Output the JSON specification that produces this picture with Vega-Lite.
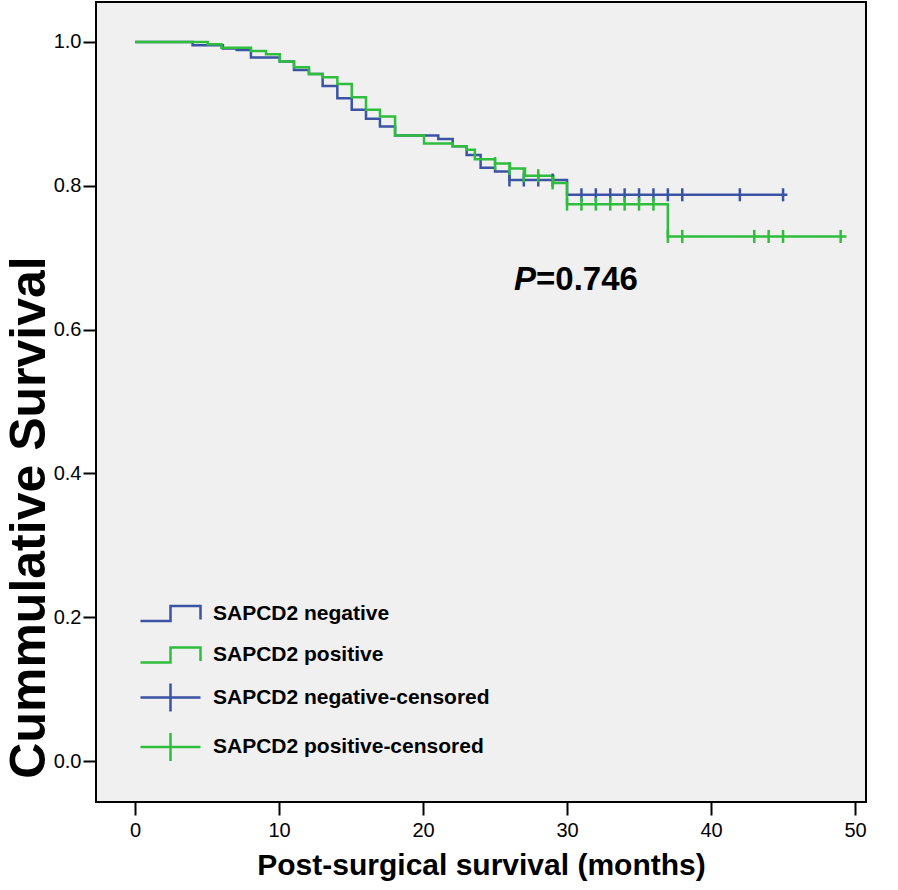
{
  "$schema": "https://vega.github.io/schema/vega-lite/v6.json",
  "autosize": {"type": "none"},
  "padding": {"left": 96, "top": 2, "right": 32, "bottom": 88},
  "width": 770,
  "height": 800,
  "background": "white",
  "config": {
    "font": "Liberation Sans",
    "view": {"stroke": "black", "strokeWidth": 2, "fill": "#f0f0f0"},
    "axis": {
      "domain": false, "grid": false,
      "tickColor": "black", "tickWidth": 2, "tickSize": 13,
      "labelColor": "black", "labelFont": "Liberation Sans", "labelFontSize": 20,
      "titleColor": "black", "titleFont": "Liberation Sans", "titleFontSize": 30, "titleFontWeight": "bold"
    }
  },
  "datasets": {
    "curves": [
      {"group": "SAPCD2 negative", "t": 0, "s": 1.0},
      {"group": "SAPCD2 negative", "t": 4.0, "s": 0.9955},
      {"group": "SAPCD2 negative", "t": 6.1, "s": 0.991},
      {"group": "SAPCD2 negative", "t": 7.06, "s": 0.989},
      {"group": "SAPCD2 negative", "t": 8.05, "s": 0.9785},
      {"group": "SAPCD2 negative", "t": 10.05, "s": 0.9727},
      {"group": "SAPCD2 negative", "t": 11.04, "s": 0.9611},
      {"group": "SAPCD2 negative", "t": 12.08, "s": 0.9556},
      {"group": "SAPCD2 negative", "t": 13.03, "s": 0.9389},
      {"group": "SAPCD2 negative", "t": 14.05, "s": 0.9218},
      {"group": "SAPCD2 negative", "t": 15.05, "s": 0.9056},
      {"group": "SAPCD2 negative", "t": 16.04, "s": 0.8931},
      {"group": "SAPCD2 negative", "t": 17.01, "s": 0.8824},
      {"group": "SAPCD2 negative", "t": 18.06, "s": 0.870},
      {"group": "SAPCD2 negative", "t": 21.06, "s": 0.865},
      {"group": "SAPCD2 negative", "t": 22.06, "s": 0.855},
      {"group": "SAPCD2 negative", "t": 23.03, "s": 0.843},
      {"group": "SAPCD2 negative", "t": 24.0, "s": 0.825},
      {"group": "SAPCD2 negative", "t": 25.0, "s": 0.820},
      {"group": "SAPCD2 negative", "t": 26.0, "s": 0.808},
      {"group": "SAPCD2 negative", "t": 30.0, "s": 0.7875},
      {"group": "SAPCD2 negative", "t": 45.3, "s": 0.7875},
      {"group": "SAPCD2 positive", "t": 0, "s": 1.0},
      {"group": "SAPCD2 positive", "t": 5.05, "s": 0.9968},
      {"group": "SAPCD2 positive", "t": 6.0, "s": 0.992},
      {"group": "SAPCD2 positive", "t": 8.05, "s": 0.9875},
      {"group": "SAPCD2 positive", "t": 9.1, "s": 0.983},
      {"group": "SAPCD2 positive", "t": 10.05, "s": 0.9727},
      {"group": "SAPCD2 positive", "t": 11.04, "s": 0.9648},
      {"group": "SAPCD2 positive", "t": 12.08, "s": 0.9556},
      {"group": "SAPCD2 positive", "t": 13.03, "s": 0.9509},
      {"group": "SAPCD2 positive", "t": 14.05, "s": 0.9417},
      {"group": "SAPCD2 positive", "t": 15.05, "s": 0.9231},
      {"group": "SAPCD2 positive", "t": 16.04, "s": 0.9056},
      {"group": "SAPCD2 positive", "t": 17.01, "s": 0.8963},
      {"group": "SAPCD2 positive", "t": 18.06, "s": 0.870},
      {"group": "SAPCD2 positive", "t": 20.07, "s": 0.859},
      {"group": "SAPCD2 positive", "t": 22.06, "s": 0.855},
      {"group": "SAPCD2 positive", "t": 23.03, "s": 0.850},
      {"group": "SAPCD2 positive", "t": 23.6, "s": 0.837},
      {"group": "SAPCD2 positive", "t": 25.0, "s": 0.831},
      {"group": "SAPCD2 positive", "t": 26.04, "s": 0.824},
      {"group": "SAPCD2 positive", "t": 27.08, "s": 0.814},
      {"group": "SAPCD2 positive", "t": 29.05, "s": 0.804},
      {"group": "SAPCD2 positive", "t": 30.0, "s": 0.7745},
      {"group": "SAPCD2 positive", "t": 37.0, "s": 0.7296},
      {"group": "SAPCD2 positive", "t": 49.4, "s": 0.7296}
    ],
    "censored": [
      {"group": "SAPCD2 negative-censored", "t": 26, "s": 0.808},
      {"group": "SAPCD2 negative-censored", "t": 27, "s": 0.808},
      {"group": "SAPCD2 negative-censored", "t": 28, "s": 0.808},
      {"group": "SAPCD2 negative-censored", "t": 29, "s": 0.808},
      {"group": "SAPCD2 negative-censored", "t": 31, "s": 0.7875},
      {"group": "SAPCD2 negative-censored", "t": 32, "s": 0.7875},
      {"group": "SAPCD2 negative-censored", "t": 33, "s": 0.7875},
      {"group": "SAPCD2 negative-censored", "t": 34, "s": 0.7875},
      {"group": "SAPCD2 negative-censored", "t": 35, "s": 0.7875},
      {"group": "SAPCD2 negative-censored", "t": 36, "s": 0.7875},
      {"group": "SAPCD2 negative-censored", "t": 37, "s": 0.7875},
      {"group": "SAPCD2 negative-censored", "t": 38, "s": 0.7875},
      {"group": "SAPCD2 negative-censored", "t": 42, "s": 0.7875},
      {"group": "SAPCD2 negative-censored", "t": 45, "s": 0.7875},
      {"group": "SAPCD2 positive-censored", "t": 25, "s": 0.831},
      {"group": "SAPCD2 positive-censored", "t": 26, "s": 0.824},
      {"group": "SAPCD2 positive-censored", "t": 27, "s": 0.814},
      {"group": "SAPCD2 positive-censored", "t": 28, "s": 0.814},
      {"group": "SAPCD2 positive-censored", "t": 29, "s": 0.804},
      {"group": "SAPCD2 positive-censored", "t": 30, "s": 0.7745},
      {"group": "SAPCD2 positive-censored", "t": 31, "s": 0.7745},
      {"group": "SAPCD2 positive-censored", "t": 32, "s": 0.7745},
      {"group": "SAPCD2 positive-censored", "t": 33, "s": 0.7745},
      {"group": "SAPCD2 positive-censored", "t": 34, "s": 0.7745},
      {"group": "SAPCD2 positive-censored", "t": 35, "s": 0.7745},
      {"group": "SAPCD2 positive-censored", "t": 36, "s": 0.7745},
      {"group": "SAPCD2 positive-censored", "t": 37, "s": 0.7296},
      {"group": "SAPCD2 positive-censored", "t": 38, "s": 0.7296},
      {"group": "SAPCD2 positive-censored", "t": 43, "s": 0.7296},
      {"group": "SAPCD2 positive-censored", "t": 44, "s": 0.7296},
      {"group": "SAPCD2 positive-censored", "t": 45, "s": 0.7296},
      {"group": "SAPCD2 positive-censored", "t": 49, "s": 0.7296}
    ]
  },
  "layer": [
    {
      "encoding": {
        "x": {
          "field": "t", "type": "quantitative",
          "scale": {"domain": [-2.708, 50.76], "nice": false, "zero": false},
          "axis": {"values": [0, 10, 20, 30, 40, 50], "title": "Post-surgical survival (months)", "labelPadding": 5, "titlePadding": 10}
        },
        "y": {
          "field": "s", "type": "quantitative",
          "scale": {"domain": [-0.0569, 1.0556], "nice": false, "zero": false},
          "axis": {"values": [0, 0.2, 0.4, 0.6, 0.8, 1.0], "format": ".1f", "title": "Cummulative Survival", "labelPadding": 2, "titleFontSize": 50, "titleX": -52, "titleY": 515, "titleAngle": 270, "titleAlign": "center", "titleBaseline": "alphabetic"}
        }
      },
      "layer": [
        {
          "data": {"name": "curves"},
          "mark": {"type": "line", "interpolate": "step-after", "strokeWidth": 2.5},
          "encoding": {
            "color": {
              "field": "group", "type": "nominal",
              "scale": {
                "domain": ["SAPCD2 negative", "SAPCD2 positive", "SAPCD2 negative-censored", "SAPCD2 positive-censored"],
                "range": ["#3a53a4", "#2fbd3d", "#3a53a4", "#2fbd3d"]
              },
              "legend": {
                "orient": "none", "legendX": 56, "legendY": 593,
                "title": null, "padding": 0,
                "symbolSize": 1156, "symbolStrokeWidth": 2.5,
                "labelFontSize": 21, "labelFontWeight": "bold", "labelColor": "black", "labelFont": "Liberation Sans",
                "labelOffset": 24, "rowPadding": 10.5, "labelLimit": 400,
                "encode": {
                  "symbols": {
                    "update": {
                      "shape": {"signal": "indexof(datum.label, 'censored') >= 0 ? 'M-1.765,0H1.765M0,-0.82V0.82' : 'M-1.765,0.44H0V-0.44H1.765V0.35'"},
                      "fill": {"value": "transparent"},
                      "stroke": {"signal": "scale('color', datum.value)"},
                      "strokeWidth": {"value": 2.5},
                      "opacity": {"value": 1}
                    }
                  }
                }
              }
            }
          }
        },
        {
          "data": {"name": "censored"},
          "mark": {"type": "point", "shape": "M0,-1V1", "size": 170, "filled": false, "strokeWidth": 2.5, "opacity": 1},
          "encoding": {
            "color": {"field": "group", "type": "nominal"}
          }
        }
      ]
    },
    {
      "data": {"values": [{"label": "P"}]},
      "mark": {"type": "text", "align": "left", "baseline": "middle", "fontSize": 33, "fontWeight": "bold", "fontStyle": "italic", "font": "Liberation Sans", "color": "black"},
      "encoding": {
        "x": {"datum": 26.32, "type": "quantitative"},
        "y": {"datum": 0.6694, "type": "quantitative"},
        "text": {"field": "label"}
      }
    },
    {
      "data": {"values": [{"label": "=0.746"}]},
      "mark": {"type": "text", "align": "left", "baseline": "middle", "fontSize": 33, "fontWeight": "bold", "font": "Liberation Sans", "color": "black"},
      "encoding": {
        "x": {"datum": 27.85, "type": "quantitative"},
        "y": {"datum": 0.6694, "type": "quantitative"},
        "text": {"field": "label"}
      }
    }
  ]
}
